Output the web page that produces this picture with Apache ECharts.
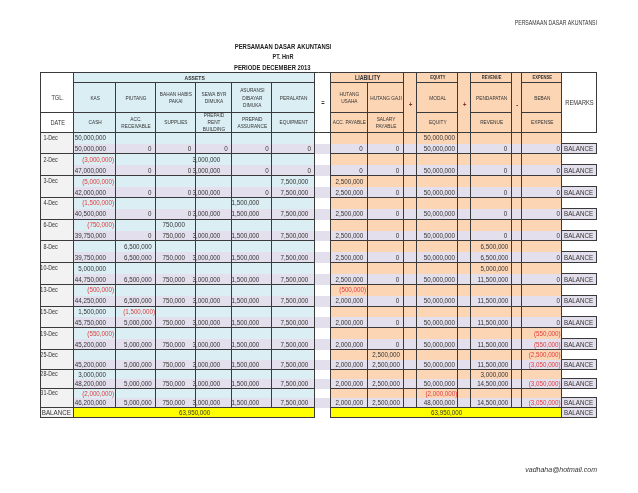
<!DOCTYPE html>
<html><head><meta charset="utf-8">
<script src="https://cdn.jsdelivr.net/npm/echarts@6/dist/echarts.min.js"></script>
<style>html,body{margin:0;padding:0;background:#fff}#c{width:638px;height:493px}</style>
</head><body><div id="c"></div>
<script>
// ---------------- DATA ----------------
const dates = ['1-Dec','2-Dec','3-Dec','4-Dec','6-Dec','8-Dec','10-Dec','13-Dec','15-Dec','19-Dec','25-Dec','28-Dec','31-Dec'];
const kasTx          = [50000000,-3000000,-5000000,-1500000,-750000,null,5000000,-500000,1500000,-550000,null,3000000,-2000000];
const kasBal         = [50000000,47000000,42000000,40500000,39750000,39750000,44750000,44250000,45750000,45200000,45200000,48200000,46200000];
const piutangTx      = [null,null,null,null,null,6500000,null,null,-1500000,null,null,null,null];
const piutangBal     = [0,0,0,0,0,6500000,6500000,6500000,5000000,5000000,5000000,5000000,5000000];
const bahanTx        = [null,null,null,null,750000,null,null,null,null,null,null,null,null];
const bahanBal       = [0,0,0,0,750000,750000,750000,750000,750000,750000,750000,750000,750000];
const sewaTx         = [null,3000000,null,null,null,null,null,null,null,null,null,null,null];
const sewaBal        = [0,3000000,3000000,3000000,3000000,3000000,3000000,3000000,3000000,3000000,3000000,3000000,3000000];
const asuransiTx     = [null,null,null,1500000,null,null,null,null,null,null,null,null,null];
const asuransiBal    = [0,0,0,1500000,1500000,1500000,1500000,1500000,1500000,1500000,1500000,1500000,1500000];
const peralatanTx    = [null,null,7500000,null,null,null,null,null,null,null,null,null,null];
const peralatanBal   = [0,0,7500000,7500000,7500000,7500000,7500000,7500000,7500000,7500000,7500000,7500000,7500000];
const hutangUsahaTx  = [null,null,2500000,null,null,null,null,-500000,null,null,null,null,null];
const hutangUsahaBal = [0,0,2500000,2500000,2500000,2500000,2500000,2000000,2000000,2000000,2000000,2000000,2000000];
const hutangGajiTx   = [null,null,null,null,null,null,null,null,null,null,2500000,null,null];
const hutangGajiBal  = [0,0,0,0,0,0,0,0,0,0,2500000,2500000,2500000];
const modalTx        = [50000000,null,null,null,null,null,null,null,null,null,null,null,-2000000];
const modalBal       = [50000000,50000000,50000000,50000000,50000000,50000000,50000000,50000000,50000000,50000000,50000000,50000000,48000000];
const pendapatanTx   = [null,null,null,null,null,6500000,5000000,null,null,null,null,3000000,null];
const pendapatanBal  = [0,0,0,0,0,6500000,11500000,11500000,11500000,11500000,11500000,14500000,14500000];
const bebanTx        = [null,null,null,null,null,null,null,null,null,-550000,-2500000,null,null];
const bebanBal       = [0,0,0,0,0,0,0,0,0,-550000,-3050000,-3050000,-3050000];
const totalAssets = 63950000;
const totalClaims = 63950000;

const assetHeaders   = ['KAS','PIUTANG','BAHAN HABIS\nPAKAI','SEWA BYR\nDIMUKA','ASURANSI\nDIBAYAR\nDIMUKA','PERALATAN'];
const assetHeadersEn = ['CASH','ACC.\nRECEIVABLE','SUPPLIES','PREPAID\nRENT\nBUILDING','PREPAID\nASSURANCE','EQUIPMENT'];
const claimHeaders   = ['HUTANG\nUSAHA','HUTANG GAJI','MODAL','PENDAPATAN','BEBAN'];
const claimHeadersEn = ['ACC. PAYABLE','SALARY\nPAYABLE','EQUITY','REVENUE','EXPENSE'];
const groupHeaders   = ['ASSETS','LIABILITY','EQUITY','REVENUE','EXPENSE'];
const signs          = ['=','+','+','-'];
const remarkText = 'BALANCE';

// ---------------- LAYOUT / STYLE ----------------
const FF = '"Liberation Sans",Arial,sans-serif';
const NARROW = 0.82;
const COL = {blue:'#DAEEF3', peach:'#FCD5B4', lav:'#E4DFEC', date:'#F2F2F2', yellow:'#FFFF00', white:'#FFFFFF',
             text:'#333333', red:'#E23B3B', line:'#3a3a3a', sign:'#7a2b2b'};
const COLW = [33.3,41.7,40,39.7,36.6,40,42.7,16,36.7,36.6,13,41,12.7,41.3,10,40,34.4];
const colX = [0]; COLW.forEach(w => colX.push(colX[colX.length-1] + w));
const HDR = [0, 10.6, 40, 60];
const SUBH = [];
for (let i = 0; i < 10; i++) SUBH.push([10.87, 10.87]);
SUBH.push([9.5, 10.5], [8.8, 10.5], [8.5, 10.5]);
const TOTAL_H = 9.4;
const VALUE_COLS = [1,2,3,4,5,6,8,9,11,13,15];
const SIGN_COLS = [7,10,12,14];
const REM = 16;
const PAD_POS  = [10, 4.3, 10.7, 12, 13, 6.7, 4.4, 4.3, 3.3, 4, 4];
const PAD_ZERO = [4, 4.5, 4.5, 4.5, 3.5, 4, 5, 5, 4, 5, 2.3];
const PAD_NEG  = [2, 1, 1, 1, 1, 1, 1.7, 1.7, 1, 1.7, 1.7];
const FNUM = `normal 7.6px ${FF}`;
const FHDR = `normal 5.8px ${FF}`;

const txSeries  = [kasTx, piutangTx, bahanTx, sewaTx, asuransiTx, peralatanTx, hutangUsahaTx, hutangGajiTx, modalTx, pendapatanTx, bebanTx];
const balSeries = [kasBal, piutangBal, bahanBal, sewaBal, asuransiBal, peralatanBal, hutangUsahaBal, hutangGajiBal, modalBal, pendapatanBal, bebanBal];

function fmt(v) {
  const s = String(Math.abs(v)).replace(/\B(?=(\d{3})+(?!\d))/g, ',');
  return v < 0 ? '(' + s + ')' : s;
}

// ---------------- BUILD CELLS & LINES ----------------
const cells = [];
function cell(c0, c1, y0, y1, o) { cells.push(Object.assign({c0, c1, y0, y1}, o || {})); }
const lines = [];
function hl(y, x0, x1) { lines.push([x0, y, x1, y]); }
function vl(x, y0, y1) { lines.push([x, y0, x, y1]); }

// header
cell(0, 1, HDR[1], HDR[2], {text:'TGL.', font:`normal 6.8px ${FF}`});
cell(0, 1, HDR[2], HDR[3], {text:'DATE', font:`normal 6.8px ${FF}`});
cell(1, 7, HDR[0], HDR[1], {fill:COL.blue, text:groupHeaders[0], font:`bold 6.2px ${FF}`});
cell(8, 10, HDR[0], HDR[1], {fill:COL.peach, text:groupHeaders[1], font:`bold 6.5px ${FF}`});
cell(11, 12, HDR[0], HDR[1], {fill:COL.peach, text:groupHeaders[2], font:`bold 5px ${FF}`});
cell(13, 14, HDR[0], HDR[1], {fill:COL.peach, text:groupHeaders[3], font:`bold 5px ${FF}`});
cell(15, 16, HDR[0], HDR[1], {fill:COL.peach, text:groupHeaders[4], font:`bold 5px ${FF}`});
SIGN_COLS.forEach((c, i) => {
  cell(c, c + 1, HDR[0], HDR[3], {fill: i === 0 ? COL.white : COL.peach, text:signs[i],
       font:`bold 7px ${FF}`, color: i === 0 ? COL.text : COL.sign, dy: i === 0 ? 0 : 2.3});
});
cell(REM, REM + 1, HDR[0], HDR[3], {text:'REMARKS', font:`normal 7px ${FF}`});
for (let k = 0; k < 6; k++) {
  cell(k + 1, k + 2, HDR[1], HDR[2], {fill:COL.blue, text:assetHeaders[k], font:FHDR, lh:7.4});
  cell(k + 1, k + 2, HDR[2], HDR[3], {fill:COL.blue, text:assetHeadersEn[k], font:FHDR, lh:7});
}
[8, 9, 11, 13, 15].forEach((c, k) => {
  cell(c, c + 1, HDR[1], HDR[2], {fill:COL.peach, text:claimHeaders[k], font:FHDR, lh:7.4});
  cell(c, c + 1, HDR[2], HDR[3], {fill:COL.peach, text:claimHeadersEn[k], font:FHDR, lh:7});
});

// header lines
const W = colX[17];
hl(HDR[0], 0, W);
const claimSegs = [[8,10],[11,12],[13,14],[15,16]];
[HDR[1], HDR[2]].forEach((y, idx) => {
  hl(y, idx === 0 ? colX[1] : 0, colX[7]);
  claimSegs.forEach(s => hl(y, colX[s[0]], colX[s[1]]));
});
hl(HDR[3], 0, W);
vl(colX[17], HDR[0], HDR[3]);

// data blocks
let y = HDR[3];
dates.forEach((d, i) => {
  const [h1, h2] = SUBH[i];
  const ym = y + h1, yb = y + h1 + h2;
  cell(0, 1, y, yb, {fill:COL.date});
  cell(0, 1, y, ym, {text:d, align:'right', pad:16.5, font:`normal 6.6px ${FF}`});
  VALUE_COLS.forEach((c, k) => {
    const tx = txSeries[k][i], bv = balSeries[k][i];
    const topFill = c < 7 ? COL.blue : COL.peach;
    const padT = tx == null ? 0 : (tx < 0 ? PAD_NEG[k] : (tx === 0 ? PAD_ZERO[k] : PAD_POS[k]));
    const padB = bv < 0 ? PAD_NEG[k] : (bv === 0 ? PAD_ZERO[k] : PAD_POS[k]);
    cell(c, c + 1, y, ym, {fill:topFill, text: tx == null ? null : fmt(tx), align:'right', pad:padT,
         font:FNUM, color: tx != null && tx < 0 ? COL.red : COL.text});
    cell(c, c + 1, ym, yb, {fill:COL.lav, text:fmt(bv), align:'right', pad:padB,
         font:FNUM, color: bv < 0 ? COL.red : COL.text});
  });
  SIGN_COLS.forEach((c, k) => {
    cell(c, c + 1, y, ym, {fill: k === 0 ? COL.white : COL.peach});
    cell(c, c + 1, ym, yb, {fill:COL.lav});
  });
  cell(REM, REM + 1, ym, yb, {fill:COL.lav, text:remarkText, align:'left', pad:1.7, font:`normal 7.6px ${FF}`});
  hl(y, 0, colX[7]); hl(y, colX[8], colX[16]);
  hl(ym, colX[16], colX[17]); hl(yb, colX[16], colX[17]); vl(colX[17], ym, yb);
  y = yb;
});
const yEnd = y;
// total row
const yT = yEnd + TOTAL_H;
cell(0, 1, yEnd, yT, {fill:COL.date, text:'BALANCE', align:'left', pad:0.8, font:`normal 7.6px ${FF}`});
cell(1, 7, yEnd, yT, {fill:COL.yellow, text:fmt(totalAssets), font:FNUM});
cell(8, 16, yEnd, yT, {fill:COL.yellow, text:fmt(totalClaims), font:FNUM});
cell(REM, REM + 1, yEnd, yT, {fill:COL.lav, text:remarkText, align:'left', pad:1.7, font:`normal 7.6px ${FF}`});
hl(yEnd, 0, colX[7]); hl(yEnd, colX[8], colX[17]);
hl(yT, 0, colX[7]); hl(yT, colX[8], colX[17]); vl(colX[17], yEnd, yT);

// vertical lines
[0, 1, 7, 8, 16].forEach(c => vl(colX[c], HDR[0], yT));
[2,3,4,5,6].forEach(c => vl(colX[c], HDR[1], yEnd));
vl(colX[9], HDR[1], yEnd);
[10, 11, 12, 13, 14, 15].forEach(c => vl(colX[c], HDR[0], yEnd));

// ---------------- CHART ----------------
const chart = echarts.init(document.getElementById('c'), null, {renderer:'canvas'});
function txt(x, y, text, font, fill, align, lh) {
  return {type:'text', x:x, y:y, scaleX:NARROW, scaleY:1,
    style:{text:text, x:0, y:0, fill:fill, font:font, textAlign:align, textVerticalAlign:'middle',
           align:align, verticalAlign:'middle', lineHeight:lh}};
}
function renderCell(params, api) {
  const c = cells[params.dataIndex];
  const p0 = api.coord([api.value(0), api.value(1)]);
  const p1 = api.coord([api.value(2), api.value(3)]);
  const x0 = Math.round(p0[0]), y0 = Math.round(p0[1]), x1 = Math.round(p1[0]), y1 = Math.round(p1[1]);
  const children = [];
  if (c.fill) children.push({type:'rect', shape:{x:x0, y:y0, width:x1 - x0, height:y1 - y0}, style:{fill:c.fill}});
  if (c.text != null) {
    const align = c.align || 'center';
    const tx = align === 'right' ? p1[0] - (c.pad || 0) : align === 'left' ? p0[0] + (c.pad || 0) : (p0[0] + p1[0]) / 2;
    const ty = (p0[1] + p1[1]) / 2 + (c.dy || 0);
    children.push(txt(tx, ty, c.text, c.font, c.color || COL.text, align, c.lh));
  }
  return {type:'group', children};
}
function renderLine(params, api) {
  const p0 = api.coord([api.value(0), api.value(1)]);
  const p1 = api.coord([api.value(2), api.value(3)]);
  let x0 = p0[0], y0 = p0[1], x1 = p1[0], y1 = p1[1];
  if (y0 === y1) { y0 = y1 = Math.round(y0) - 0.5; x0 = Math.round(x0) - 1; x1 = Math.round(x1); }
  else { x0 = x1 = Math.round(x0) - 0.5; y0 = Math.round(y0) - 1; y1 = Math.round(y1); }
  return {type:'line', shape:{x1:x0, y1:y0, x2:x1, y2:y1}, style:{stroke:COL.line, lineWidth:1}};
}
const GL = 41, GT = 72.7;
chart.setOption({
  animation:false,
  backgroundColor:'#ffffff',
  grid:{left:GL, top:GT, width:colX[17], height:yT},
  xAxis:{type:'value', min:0, max:colX[17], show:false},
  yAxis:{type:'value', min:0, max:yT, inverse:true, show:false},
  graphic:[
    txt(597, 23, 'PERSAMAAN DASAR AKUNTANSI', `normal 6.3px ${FF}`, COL.text, 'right'),
    txt(283, 47, 'PERSAMAAN DASAR AKUNTANSI', `bold 7.2px ${FF}`, '#222', 'center'),
    txt(283, 57.5, 'PT. HnR', `bold 6.8px ${FF}`, '#222', 'center'),
    txt(234, 68, 'PERIODE DECEMBER 2013', `bold 7.2px ${FF}`, '#222', 'left'),
    {type:'text', x:597, y:470, style:{text:'vadhaha@hotmail.com', font:`italic 7px ${FF}`, fill:COL.text,
      textAlign:'right', textVerticalAlign:'middle', align:'right', verticalAlign:'middle'}}
  ],
  series:[
    {type:'custom', silent:true, clip:false, z:2, renderItem:renderCell,
     encode:{x:[0,2], y:[1,3]}, data:cells.map(c => [colX[c.c0], c.y0, colX[c.c1], c.y1])},
    {type:'custom', silent:true, clip:false, z:3, renderItem:renderLine,
     encode:{x:[0,2], y:[1,3]}, data:lines}
  ]
});
</script>
</body></html>
